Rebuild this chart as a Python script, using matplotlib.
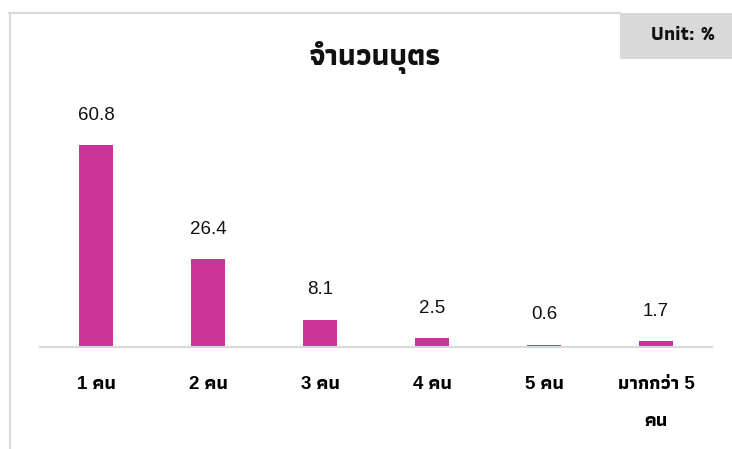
import matplotlib
matplotlib.use("Agg")
import matplotlib.pyplot as plt
from matplotlib.patches import Rectangle
from matplotlib.lines import Line2D

# data
categories = ["1 คน", "2 คน", "3 คน", "4 คน", "5 คน", "มากกว่า 5\nคน"]
values = [60.8, 26.4, 8.1, 2.5, 0.6, 1.7]
title = "จำนวนบุตร"
unit_text = "Unit: %"

bar_color = "#CC3399"
grey = "#D9D9D9"
fonts = ["Liberation Sans", "Athiti", "DejaVu Sans"]
thai_fonts = ["Athiti", "Liberation Sans", "DejaVu Sans"]

W, H = 732, 449
fig = plt.figure(figsize=(W / 100, H / 100), dpi=100)

# plot area: x 40..712 px, baseline at 346.5 px
ax = fig.add_axes([40 / W, (H - 346.5) / H, 672 / W, 232 / H])
x = list(range(len(categories)))
ax.bar(x, values, width=0.31, color=bar_color, zorder=2)
ax.set_xlim(-0.5, len(categories) - 0.5)
ax.set_ylim(0, 70)

for xi, v in zip(x, values):
    ax.annotate(f"{v:.1f}", (xi, v), xytext=(0, 21.5), textcoords="offset points",
                ha="center", va="center", fontsize=13.5, color="#111111", family=fonts)

ax.set_xticks(x)
ax.set_xticklabels(categories, fontsize=13.5, fontweight="bold", family=fonts,
                   linespacing=2.6)
ax.tick_params(axis="x", length=0, pad=21)
ax.set_yticks([])
for s in ["top", "right", "left"]:
    ax.spines[s].set_visible(False)
ax.spines["bottom"].set_color(grey)
ax.spines["bottom"].set_linewidth(1.5)

# outer frame (top and left) and unit box
fig.add_artist(Line2D([9 / W, 620 / W], [(H - 13) / H] * 2, color=grey, lw=1.5))
fig.add_artist(Line2D([9.5 / W] * 2, [0, (H - 13) / H], color=grey, lw=1.5))
fig.add_artist(Rectangle((620 / W, (H - 59) / H), 112 / W, 46 / H, color=grey, lw=0))
fig.text(683 / W, (H - 35) / H, unit_text, ha="center", va="center", fontsize=14,
         fontweight="bold", family=thai_fonts, color="#111111")

fig.text(375 / W, (H - 57) / H, title, ha="center", va="center", fontsize=21,
         fontweight="bold", family=thai_fonts, color="#111111")

fig.savefig("out.png", dpi=100)
